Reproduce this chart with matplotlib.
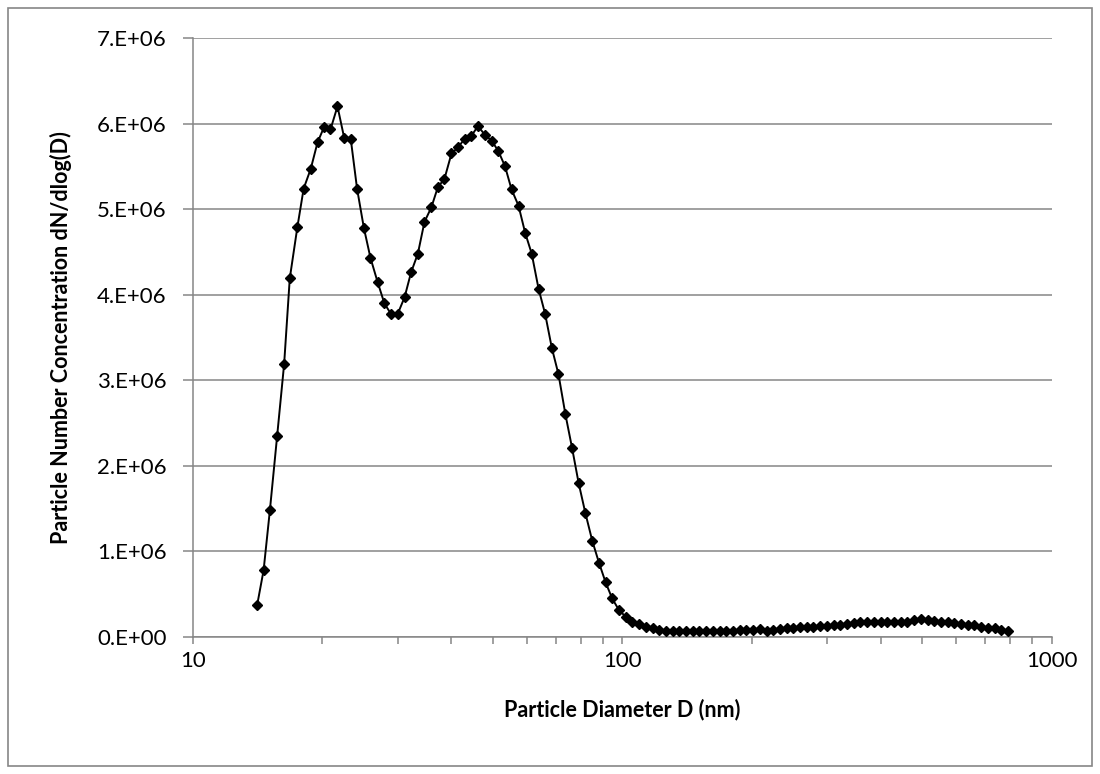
import matplotlib
matplotlib.use("Agg")
import matplotlib.pyplot as plt
from matplotlib.ticker import FuncFormatter, LogLocator, NullFormatter
from matplotlib.patches import Rectangle

# particle diameter (nm), one point per size channel
diameter = [14.1, 14.6, 15.1, 15.7, 16.3, 16.8, 17.5, 18.1, 18.8, 19.5,
            20.2, 20.9, 21.7, 22.5, 23.3, 24.1, 25.0, 25.9, 26.9, 27.9,
            28.9, 30.0, 31.1, 32.2, 33.4, 34.6, 35.9, 37.2, 38.5, 40.0,
            41.4, 42.9, 44.5, 46.1, 47.8, 49.6, 51.4, 53.3, 55.2, 57.3,
            59.4, 61.5, 63.8, 66.1, 68.5, 71.0, 73.7, 76.4, 79.1, 82.0,
            85.1, 88.2, 91.4, 94.7, 98.2, 101.8, 105.5, 109.4, 113.4, 117.6,
            121.9, 126.3, 131.0, 135.8, 140.7, 145.9, 151.2, 156.8, 162.5, 168.5,
            174.7, 181.1, 187.7, 194.6, 201.7, 209.1, 216.7, 224.7, 232.9, 241.4,
            250.3, 259.5, 269.0, 278.8, 289.0, 299.6, 310.6, 322.0, 333.8, 346.0,
            358.7, 371.8, 385.4, 399.5, 414.2, 429.4, 445.1, 461.4, 478.3, 495.8,
            514.0, 532.8, 552.3, 572.5, 593.5, 615.3, 637.8, 661.2, 685.4, 710.5,
            736.5, 763.5, 791.5]

# dN/dlog(D), in millions
conc_millions = [0.37, 0.78, 1.48, 2.35, 3.19, 4.19, 4.79, 5.24, 5.47, 5.78,
                 5.96, 5.93, 6.20, 5.83, 5.82, 5.24, 4.78, 4.43, 4.15, 3.90,
                 3.775, 3.78, 3.97, 4.26, 4.48, 4.85, 5.02, 5.26, 5.35, 5.65,
                 5.72, 5.82, 5.855, 5.97, 5.87, 5.80, 5.68, 5.50, 5.23, 5.04,
                 4.72, 4.48, 4.07, 3.775, 3.38, 3.07, 2.60, 2.205, 1.80, 1.45,
                 1.125, 0.87, 0.64, 0.45, 0.315, 0.237, 0.18, 0.148, 0.12, 0.10,
                 0.082, 0.075, 0.07, 0.068, 0.068, 0.07, 0.07, 0.072, 0.07, 0.068,
                 0.07, 0.075, 0.08, 0.082, 0.085, 0.095, 0.072, 0.08, 0.09, 0.10,
                 0.11, 0.115, 0.12, 0.12, 0.125, 0.13, 0.135, 0.14, 0.15, 0.16,
                 0.18, 0.175, 0.17, 0.17, 0.17, 0.175, 0.175, 0.17, 0.20, 0.21,
                 0.20, 0.19, 0.18, 0.175, 0.165, 0.155, 0.145, 0.135, 0.12, 0.11,
                 0.10, 0.085, 0.07]
conc = [c * 1e6 for c in conc_millions]

y_ticks = [0, 1e6, 2e6, 3e6, 4e6, 5e6, 6e6, 7e6]

plt.rcParams['font.family'] = ['Lato', 'DejaVu Sans']
grey = '#868686'

fig = plt.figure(figsize=(11, 7.74), dpi=100)
ax = fig.add_axes([0.1755, 0.177, 0.7805, 0.774])

# outer chart border
fig.patches.append(Rectangle((0.0075, 0.0105), 0.985, 0.979, transform=fig.transFigure,
                             fill=False, edgecolor=grey, linewidth=1.2))

ax.plot(diameter, conc, color='black', linewidth=1.4, marker='D',
        markersize=5.5, markerfacecolor='black', markeredgecolor='black', zorder=3)

ax.set_xscale('log')
ax.set_xlim(10, 1000)
ax.set_ylim(0, 7e6)
ax.set_yticks(y_ticks)

def sci_label(v, pos):
    if v == 0:
        return '0.E+00'
    return f'{int(round(v / 1e6))}.E+06'

ax.yaxis.set_major_formatter(FuncFormatter(sci_label))
ax.xaxis.set_major_formatter(FuncFormatter(lambda v, pos: f'{int(v)}'))
ax.xaxis.set_minor_locator(LogLocator(base=10, subs=range(2, 10)))
ax.xaxis.set_minor_formatter(NullFormatter())

ax.grid(True, axis='y', color=grey, linewidth=1.1)
ax.set_axisbelow(True)
for side in ['top', 'right']:
    ax.spines[side].set_visible(False)
for side in ['left', 'bottom']:
    ax.spines[side].set_color(grey)
    ax.spines[side].set_linewidth(1.1)

ax.tick_params(axis='y', which='major', direction='out', length=7, width=1.1,
               color=grey, labelsize=16, pad=12)
ax.tick_params(axis='x', which='both', direction='out', length=5, width=1.1,
               color=grey, labelsize=16, pad=5)

ax.set_xlabel('Particle Diameter D (nm)', fontsize=15.5, fontweight='bold', labelpad=20)
ax.set_ylabel('Particle Number Concentration dN/dlog(D)', fontsize=15.5,
              fontweight='bold', labelpad=18)

fig.savefig('out.png', dpi=100)
